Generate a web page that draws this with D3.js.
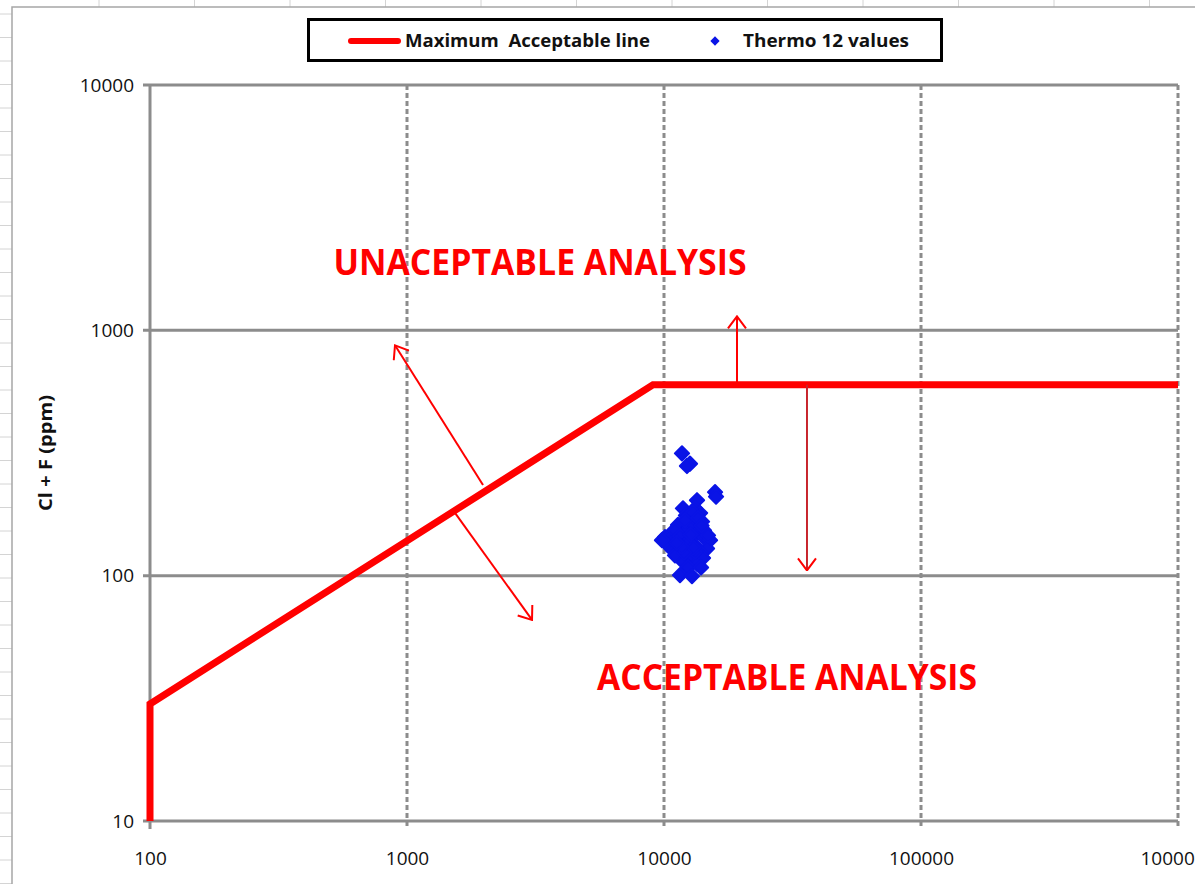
<!DOCTYPE html>
<html>
<head>
<meta charset="utf-8">
<script src="https://cdn.jsdelivr.net/npm/d3@7"></script>
<style>
  body { margin: 0; background: #fff; }
  svg { display: block; }
</style>
</head>
<body>
<div id="chart"></div>
<script>
// limit line: Cl + F (ppm) against sample value
const limitX = [100, 100, 9060, 1000000];
const limitY = [10, 30, 600, 600];

// Thermo 12 measured points
const thermoX = [11749, 12620, 12285, 15800, 15940, 13440, 11855, 13200, 13810, 12180,
  12966, 14060, 11336, 12620, 10743, 12066, 13560, 10090, 10552, 11233,
  12620, 14440, 15100, 10365, 11540, 13200, 14700, 10840, 12180, 13810,
  11336, 12850, 14180, 11855, 13440, 12400, 13930, 11540, 12850, 11034,
  12966, 14310, 9822, 12066, 13560, 14830, 11034, 13200, 11540, 12400,
  13000, 12000, 11700, 12700, 14000, 11200];
const thermoY = [315, 286, 280, 219, 210, 203, 188, 188, 180, 176,
  168, 166, 161, 158, 150, 150, 150, 143.5, 139.5, 142,
  142, 142, 139.5, 133, 133, 133, 129, 127, 127, 125,
  121, 119, 118, 114, 112, 108, 108, 100.5, 99.6, 153,
  181, 153, 139.5, 168, 172, 146, 121, 125, 145, 137,
  130, 124, 131, 147, 160, 136];

const xTicks = [100, 1000, 10000, 100000, 1000000];
const yTicks = [10, 100, 1000, 10000];

// annotation arrows [x1, y1, x2, y2] in data units, head at (x2, y2)
const arrows = [
  [1976, 234, 898, 869],
  [1510, 185, 3065, 66],
  [19230, 600, 19230, 1140],
  [36000, 600, 36000, 105]
];

const W = 1195, H = 884;
const gray = "#8c8c8c", red = "#ff0000", blue = "#0a14e6";
const font = "'Open Sans', 'DejaVu Sans', sans-serif";

const svg = d3.select("#chart").append("svg")
  .attr("width", W)
  .attr("height", H);

// spreadsheet behind the chart
const sheet = svg.append("g").attr("stroke", "#d4d4d4").attr("stroke-width", 1);
d3.range(99, W, 95.5).forEach(x => {
  sheet.append("line").attr("x1", x).attr("x2", x).attr("y1", 0).attr("y2", 7);
});
d3.range(14, H, 23.5).forEach(y => {
  sheet.append("line").attr("x1", 0).attr("x2", 12).attr("y1", y).attr("y2", y);
});
svg.append("rect")
  .attr("x", 12).attr("y", 7)
  .attr("width", W + 20).attr("height", H + 20)
  .attr("fill", "#fff")
  .attr("stroke", "#a6a6a6")
  .attr("stroke-width", 1.5);

const x = d3.scaleLog().domain([100, 1000000]).range([150, 1178]);
const y = d3.scaleLog().domain([10, 10000]).range([821, 85]);

// horizontal grid (solid)
svg.append("g").selectAll("line")
  .data(yTicks)
  .enter().append("line")
  .attr("x1", x(100) - 7)
  .attr("x2", x(1000000))
  .attr("y1", d => y(d))
  .attr("y2", d => y(d))
  .attr("stroke", gray)
  .attr("stroke-width", 3);

// vertical grid (dashed), first one is the axis
svg.append("g").selectAll("line")
  .data(xTicks)
  .enter().append("line")
  .attr("x1", d => x(d))
  .attr("x2", d => x(d))
  .attr("y1", y(10000))
  .attr("y2", y(10) + 8)
  .attr("stroke", gray)
  .attr("stroke-width", 3)
  .attr("stroke-dasharray", (d, i) => i === 0 ? null : "5,3");

// tick labels
const yAxis = svg.append("g")
  .attr("transform", `translate(${x(100) - 16},0)`)
  .call(d3.axisLeft(y).tickValues(yTicks).tickFormat(d3.format("d")).tickSize(0));
const xAxis = svg.append("g")
  .attr("transform", `translate(0,${y(10) + 30})`)
  .call(d3.axisBottom(x).tickValues(xTicks).tickFormat(d3.format("d")).tickSize(0));
[yAxis, xAxis].forEach(g => {
  g.select(".domain").remove();
  g.selectAll("text")
    .attr("fill", "#111")
    .style("font-family", font)
    .style("font-size", "19px");
});
xAxis.selectAll("text").attr("dy", "0.71em").attr("y", 0);
yAxis.selectAll("text").attr("x", 0);

// y axis title
svg.append("text")
  .attr("transform", `translate(52,${(y(1000) + y(100)) / 2}) rotate(-90)`)
  .attr("text-anchor", "middle")
  .attr("textLength", 116)
  .attr("lengthAdjust", "spacingAndGlyphs")
  .style("font-family", font)
  .style("font-weight", "bold")
  .style("font-size", "18px")
  .attr("fill", "#111")
  .text("Cl + F (ppm)");

// maximum acceptable line
const line = d3.line().x(d => x(d[0])).y(d => y(d[1]));
svg.append("path")
  .datum(limitX.map((v, i) => [v, limitY[i]]))
  .attr("d", line)
  .attr("fill", "none")
  .attr("stroke", red)
  .attr("stroke-width", 7)
  .attr("stroke-linejoin", "miter");

// arrows
svg.append("defs").append("marker")
  .attr("id", "head")
  .attr("viewBox", "0 0 14 20")
  .attr("refX", 13)
  .attr("refY", 10)
  .attr("markerWidth", 14)
  .attr("markerHeight", 20)
  .attr("markerUnits", "userSpaceOnUse")
  .attr("orient", "auto")
  .append("path")
  .attr("d", "M1,1 L13,10 L1,19")
  .attr("fill", "none")
  .attr("stroke", red)
  .attr("stroke-width", 2);

svg.append("g").selectAll("line")
  .data(arrows)
  .enter().append("line")
  .attr("x1", d => x(d[0]))
  .attr("y1", d => y(d[1]))
  .attr("x2", d => x(d[2]))
  .attr("y2", d => y(d[3]))
  .attr("stroke", (d, i) => i === 3 ? "#c8242c" : red)
  .attr("stroke-width", 2)
  .attr("marker-end", "url(#head)");

// Thermo 12 points
const diamond = d3.symbol().type(d3.symbolDiamond2).size(130);
svg.append("g").selectAll("path")
  .data(thermoX.map((v, i) => [v, thermoY[i]]))
  .enter().append("path")
  .attr("d", diamond)
  .attr("transform", d => `translate(${x(d[0])},${y(d[1])})`)
  .attr("fill", blue)
  .attr("stroke", blue)
  .attr("stroke-width", 2)
  .attr("stroke-linejoin", "round");

// region labels
function bigLabel(txt, cx, base, len) {
  svg.append("text")
    .attr("x", cx)
    .attr("y", base)
    .attr("text-anchor", "middle")
    .attr("textLength", len)
    .attr("lengthAdjust", "spacingAndGlyphs")
    .style("font-family", font)
    .style("font-weight", "bold")
    .style("font-size", "36px")
    .attr("fill", red)
    .text(txt);
}
bigLabel("UNACEPTABLE ANALYSIS", 540, 275, 413);
bigLabel("ACCEPTABLE ANALYSIS", 787, 690, 380);

// legend
const lg = svg.append("g");
lg.append("rect")
  .attr("x", 308.5).attr("y", 19.5)
  .attr("width", 633).attr("height", 41)
  .attr("fill", "#fff")
  .attr("stroke", "#000")
  .attr("stroke-width", 3);
lg.append("line")
  .attr("x1", 351).attr("x2", 398)
  .attr("y1", 41).attr("y2", 41)
  .attr("stroke", red)
  .attr("stroke-width", 6)
  .attr("stroke-linecap", "round");
lg.append("path")
  .attr("d", d3.symbol().type(d3.symbolDiamond2).size(55))
  .attr("transform", "translate(715,41)")
  .attr("fill", blue);
[["Maximum  Acceptable line", 405, 245], ["Thermo 12 values", 743, 166]].forEach(t => {
  lg.append("text")
    .attr("x", t[1])
    .attr("y", 47)
    .attr("textLength", t[2])
    .attr("lengthAdjust", "spacingAndGlyphs")
    .attr("xml:space", "preserve")
    .style("white-space", "pre")
    .style("font-family", font)
    .style("font-weight", "bold")
    .style("font-size", "17px")
    .attr("fill", "#111")
    .text(t[0]);
});
</script>
</body>
</html>
